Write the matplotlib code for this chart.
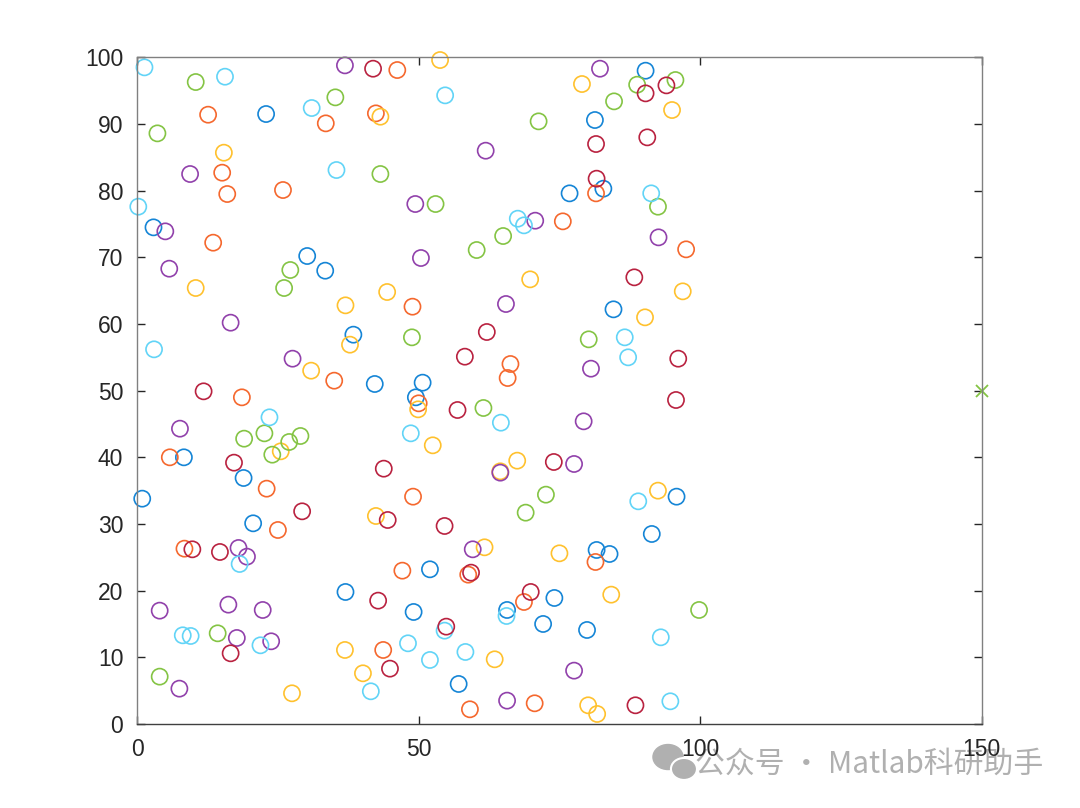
import numpy as np
import matplotlib.pyplot as plt
from matplotlib.patches import Ellipse

# points, grouped by colour
blue_x = [22.9, 2.9, 30.2, 33.4, 38.4, 42.2, 49.5, 50.7, 8.3, 18.9, 0.9, 20.6, 52.0, 37.0, 49.1,
          57.1, 90.3, 81.3, 82.8, 76.8, 84.6, 95.8, 91.4, 81.6, 83.9, 74.1, 65.7, 72.1, 79.9]
blue_y = [91.5, 74.5, 70.2, 68.0, 58.4, 51.0, 49.0, 51.2, 40.0, 36.9, 33.8, 30.1, 23.2, 19.8, 16.8,
          6.0, 98.0, 90.6, 80.3, 79.6, 62.2, 34.1, 28.5, 26.1, 25.5, 18.9, 17.1, 15.0, 14.1]

orange_x = [12.6, 33.5, 15.1, 16.0, 25.9, 13.5, 46.2, 42.4, 48.9, 35.0, 50.0, 18.6, 5.8, 23.0, 49.0,
            66.3, 65.8, 81.5, 75.6, 97.5, 8.4, 25.0, 47.1, 58.8, 43.7, 59.1, 81.4, 68.7, 70.6]
orange_y = [91.4, 90.1, 82.7, 79.5, 80.1, 72.2, 98.1, 91.6, 62.6, 51.5, 48.1, 49.0, 40.0, 35.3, 34.1,
            54.0, 51.9, 79.6, 75.4, 71.2, 26.3, 29.1, 23.0, 22.4, 11.1, 2.2, 24.3, 18.3, 3.1]

yellow_x = [15.4, 10.4, 53.8, 43.2, 37.0, 44.4, 37.8, 30.9, 49.9, 52.5, 25.5, 64.5, 79.0, 95.0, 69.8,
            96.9, 90.2, 67.5, 92.5, 42.4, 61.7, 36.9, 40.1, 63.5, 27.5, 75.0, 84.2, 80.1, 81.7]
yellow_y = [85.7, 65.4, 99.6, 91.1, 62.8, 64.8, 56.9, 53.0, 47.2, 41.8, 40.9, 37.9, 96.0, 92.1, 66.7,
            64.9, 61.0, 39.5, 35.0, 31.2, 26.5, 11.1, 7.6, 9.7, 4.6, 25.6, 19.4, 2.8, 1.5]

purple_x = [36.9, 9.4, 5.0, 5.7, 16.6, 27.6, 7.6, 49.4, 50.4, 61.9, 70.7, 65.5, 64.5, 82.2, 92.6,
            80.6, 79.3, 77.6, 18.0, 19.5, 4.0, 16.2, 22.3, 17.7, 23.8, 7.5, 59.6, 65.7, 77.6]
purple_y = [98.8, 82.5, 73.9, 68.3, 60.2, 54.8, 44.3, 78.0, 69.9, 86.0, 75.5, 63.0, 37.7, 98.3, 73.0,
            53.3, 45.4, 39.0, 26.4, 25.1, 17.0, 17.9, 17.1, 12.9, 12.4, 5.3, 26.2, 3.5, 8.0]

green_x = [10.4, 35.2, 3.6, 43.2, 27.2, 26.1, 53.0, 60.3, 65.0, 48.8, 22.6, 19.0, 27.0, 29.0, 24.0,
           61.5, 88.8, 95.6, 84.7, 71.3, 92.5, 80.2, 72.6, 69.0, 14.3, 4.0, 99.8]
green_y = [96.3, 94.0, 88.6, 82.5, 68.1, 65.4, 78.0, 71.1, 73.2, 58.0, 43.6, 42.8, 42.3, 43.2, 40.4,
           47.4, 95.9, 96.6, 93.4, 90.4, 77.6, 57.7, 34.4, 31.7, 13.6, 7.1, 17.1]

cyan_x = [1.3, 15.6, 31.0, 35.4, 0.2, 54.7, 67.6, 68.7, 3.0, 23.5, 48.6, 64.6, 91.3, 86.6, 87.2,
          89.0, 18.2, 8.1, 9.5, 21.9, 54.6, 48.1, 52.0, 58.3, 41.5, 65.6, 93.0, 94.7]
cyan_y = [98.5, 97.1, 92.4, 83.1, 77.6, 94.3, 75.8, 74.8, 56.2, 46.0, 43.6, 45.2, 79.6, 58.0, 55.0,
          33.4, 24.0, 13.3, 13.2, 11.8, 14.0, 12.1, 9.6, 10.8, 4.9, 16.2, 13.0, 3.4]

red_x = [41.9, 11.8, 17.2, 62.1, 58.2, 56.9, 43.8, 90.3, 94.0, 81.5, 90.6, 81.6, 88.3, 96.1, 95.7,
         74.0, 29.3, 9.8, 14.7, 16.6, 44.5, 54.6, 59.3, 42.8, 54.9, 44.9, 69.9, 88.5]
red_y = [98.3, 49.9, 39.2, 58.8, 55.1, 47.1, 38.3, 94.6, 95.8, 87.0, 88.0, 81.8, 67.0, 54.8, 48.6,
         39.3, 31.9, 26.2, 25.8, 10.6, 30.6, 29.7, 22.7, 18.5, 14.6, 8.3, 19.8, 2.8]

groups = [(blue_x, blue_y, '#1585d6'),
          (orange_x, orange_y, '#f5682e'),
          (yellow_x, yellow_y, '#ffc12e'),
          (purple_x, purple_y, '#9141ab'),
          (green_x, green_y, '#84c444'),
          (cyan_x, cyan_y, '#62d4f7'),
          (red_x, red_y, '#b92240')]

extra_x = [150]
extra_y = [50]

plt.rcParams['font.family'] = ['Liberation Sans', 'DejaVu Sans']

fig = plt.figure(figsize=(10.8, 8.08), dpi=100)
ax = fig.add_axes([0.127, 0.104, 0.782, 0.825])

for xs, ys, c in groups:
    ax.scatter(xs, ys, s=135, facecolors='none', edgecolors=c, linewidths=1.2, clip_on=False)
ax.plot(extra_x, extra_y, 'x', color='#84c444', markersize=9, markeredgewidth=1.3, clip_on=False)

ax.set_xlim(0, 150)
ax.set_ylim(0, 100)
ax.set_xticks([0, 50, 100, 150])
ax.set_yticks(np.arange(0, 101, 10))
ax.tick_params(direction='in', length=6, width=1, colors='#262626', labelsize=16.5, pad=10,
               top=True, right=True)
for sp in ax.spines.values():
    sp.set_color('#808080')
    sp.set_linewidth(1)
ax.spines['bottom'].set_color('#404040')

# watermark (sits under the tick labels, like in the original)
fig.text(0.966, 0.054, '公众号 · Matlab科研助手', ha='right', va='center', fontsize=21.5,
         color='#b0b0b0', family=['Noto Sans CJK SC', 'DejaVu Sans'], zorder=-1)
fig.add_artist(Ellipse((0.6185, 0.0631), 0.0278, 0.0309, transform=fig.transFigure,
                       color='#b0b0b0', zorder=-1))
fig.add_artist(Ellipse((0.6333, 0.0483), 0.0241, 0.0272, transform=fig.transFigure,
                       facecolor='#b0b0b0', edgecolor='white', linewidth=1.5, zorder=-1))

fig.savefig('out.png', dpi=100, facecolor='white')
